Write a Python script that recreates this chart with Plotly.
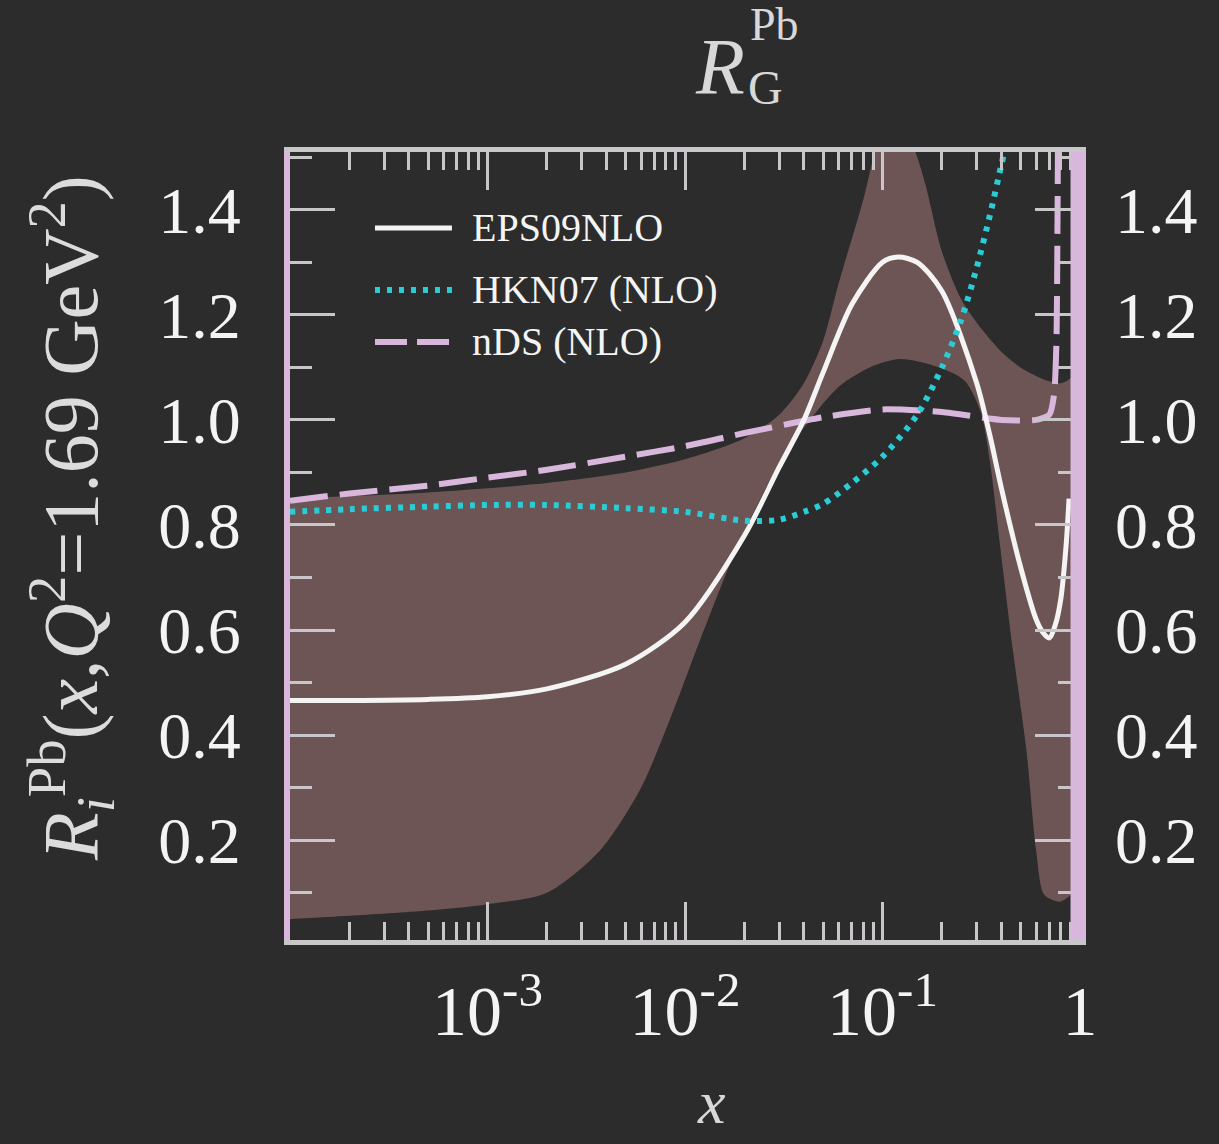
import numpy as np
import plotly.graph_objects as go

# ---- data: nuclear modification of the gluon in Pb, Q^2 = 1.69 GeV^2 ----
x_eps = [1e-4, 2e-4, 5e-4, 1e-3, 2e-3, 5e-3, 0.01, 0.02, 0.03, 0.04, 0.05, 0.07,
         0.1, 0.12, 0.15, 0.2, 0.3, 0.35, 0.4, 0.5, 0.6, 0.65, 0.7, 0.75, 0.8, 0.85, 0.88]
r_eps = [0.466, 0.466, 0.468, 0.473, 0.488, 0.535, 0.615, 0.78, 0.91, 1.0, 1.09, 1.22,
         1.30, 1.31, 1.30, 1.245, 1.07, 0.97, 0.87, 0.72, 0.62, 0.595, 0.585, 0.61, 0.66, 0.76, 0.85]

x_band_lo = [1e-4, 2e-4, 5e-4, 1e-3, 2e-3, 3.7e-3, 5.9e-3, 8.4e-3, 0.0119, 0.019, 0.0303,
             0.0429, 0.0608, 0.0862, 0.122, 0.194, 0.26, 0.313, 0.35, 0.394, 0.458,
             0.536, 0.6, 0.66, 0.79, 0.9, 1.0]
r_band_lo = [0.05, 0.056, 0.066, 0.078, 0.1, 0.18, 0.295, 0.43, 0.58, 0.77, 0.92,
             1.0, 1.065, 1.10, 1.116, 1.10, 1.075, 1.017, 0.92, 0.76, 0.56,
             0.37, 0.18, 0.096, 0.083, 0.096, 0.12]

x_band_hi = [1e-4, 2e-4, 5e-4, 1e-3, 2e-3, 5e-3, 0.01, 0.02, 0.03, 0.04, 0.05, 0.06,
             0.08, 0.09, 0.1, 0.12, 0.13, 0.15, 0.165, 0.2, 0.25, 0.3, 0.4, 0.5,
             0.68, 0.8, 0.9, 1.0]
r_band_hi = [0.85, 0.855, 0.862, 0.87, 0.88, 0.9, 0.925, 0.965, 1.01, 1.07, 1.15, 1.26,
             1.42, 1.5, 1.56, 1.6, 1.56, 1.5, 1.448, 1.32, 1.23, 1.185, 1.13, 1.1,
             1.075, 1.07, 1.08, 1.1]

x_hkn = [1e-4, 2e-4, 5e-4, 1e-3, 2e-3, 5e-3, 0.01, 0.02, 0.03, 0.04, 0.05, 0.07,
         0.1, 0.15, 0.2, 0.25, 0.3, 0.35, 0.4, 0.42]
r_hkn = [0.825, 0.83, 0.835, 0.838, 0.838, 0.832, 0.825, 0.808, 0.81, 0.825, 0.84, 0.88,
         0.93, 1.01, 1.10, 1.19, 1.29, 1.39, 1.486, 1.52]

x_nds = [1e-4, 2e-4, 5e-4, 1e-3, 2e-3, 5e-3, 0.01, 0.02, 0.05, 0.1, 0.2, 0.4,
         0.6, 0.7, 0.74, 0.76, 0.77, 0.775]
r_nds = [0.846, 0.86, 0.875, 0.89, 0.905, 0.93, 0.95, 0.975, 1.005, 1.02, 1.015, 1.0,
         1.0, 1.01, 1.05, 1.15, 1.4, 1.6]

y_ticks = [0.2, 0.4, 0.6, 0.8, 1.0, 1.2, 1.4]
y_ticktext = ["0.2", "0.4", "0.6", "0.8", "1.0", "1.2", "1.4"]
x_ticks = [1e-3, 1e-2, 1e-1, 1.0]
x_ticktext = ["10<sup>-3</sup>", "10<sup>-2</sup>", "10<sup>-1</sup>", "1"]

legend_names = ["EPS09NLO", "HKN07 (NLO)", "nDS (NLO)"]

# ---- styles ----
BG = "#2c2c2c"
BAND = "rgb(110,85,85)"
WHITE = "#f4f4f4"
CYAN = "#2acdd6"
LILAC = "#d9b6dc"
FRAME = "#c9c6c9"
TITLE = "#d8d8d8"
SERIF = "Liberation Serif, Times New Roman, serif"

x_minor = [m * 10.0 ** d for d in range(-4, 0) for m in range(2, 10)]
y_minor = [0.1, 0.3, 0.5, 0.7, 0.9, 1.1, 1.3, 1.5]

fig = go.Figure()

# uncertainty band: lower edge, then upper edge filled down to it
fig.add_trace(go.Scatter(x=x_band_lo, y=r_band_lo, mode="lines",
                         line=dict(width=0, shape="spline", smoothing=0.8),
                         showlegend=False, hoverinfo="skip"))
fig.add_trace(go.Scatter(x=x_band_hi, y=r_band_hi, mode="lines", fill="tonexty",
                         fillcolor=BAND, line=dict(width=0, shape="spline", smoothing=0.8),
                         showlegend=False, hoverinfo="skip"))

fig.add_trace(go.Scatter(x=x_nds, y=r_nds, mode="lines", name=legend_names[2],
                         line=dict(color=LILAC, width=6, dash="38px,12px",
                                   shape="spline", smoothing=0.6),
                         showlegend=False))
fig.add_trace(go.Scatter(x=x_eps, y=r_eps, mode="lines", name=legend_names[0],
                         line=dict(color=WHITE, width=5, shape="spline", smoothing=0.8),
                         showlegend=False))
fig.add_trace(go.Scatter(x=x_hkn, y=r_hkn, mode="lines", name=legend_names[1],
                         line=dict(color=CYAN, width=6, dash="5px,7px",
                                   shape="spline", smoothing=0.8),
                         showlegend=False))

# carrier for the right-hand tick labels
fig.add_trace(go.Scatter(x=x_eps, y=r_eps, yaxis="y2", mode="lines",
                         line=dict(width=0), opacity=0, showlegend=False,
                         hoverinfo="skip"))

YR = [0.01, 1.51]

fig.update_layout(
    width=1219, height=1144,
    margin=dict(l=290, r=139, t=152, b=204),
    paper_bgcolor=BG, plot_bgcolor=BG,
    font=dict(family=SERIF, color=WHITE),
    showlegend=False,
    xaxis=dict(type="log", range=[-4, 0], showgrid=False, zeroline=False,
               showline=True, linecolor=FRAME, linewidth=5, mirror="ticks",
               ticks="inside", ticklen=38, tickwidth=3, tickcolor=FRAME,
               tickvals=x_ticks, ticktext=x_ticktext,
               tickfont=dict(size=70, family=SERIF, color=WHITE),
               ticklabelstandoff=6,
               minor=dict(tickvals=x_minor, ticks="inside", ticklen=18,
                          tickwidth=3, tickcolor=FRAME)),
    yaxis=dict(range=YR, showgrid=False, zeroline=False,
               showline=True, linecolor=LILAC, linewidth=6, mirror="ticks",
               ticks="inside", ticklen=45, tickwidth=3, tickcolor=FRAME,
               tickvals=y_ticks, ticktext=y_ticktext,
               tickfont=dict(size=66, family=SERIF, color=WHITE),
               ticklabelstandoff=30,
               minor=dict(tickvals=y_minor, ticks="inside", ticklen=22,
                          tickwidth=3, tickcolor=FRAME)),
    yaxis2=dict(range=YR, overlaying="y", side="right", anchor="x",
                showgrid=False, zeroline=False, showline=False, ticks="",
                tickvals=y_ticks, ticktext=y_ticktext,
                tickfont=dict(size=66, family=SERIF, color=WHITE),
                ticklabelstandoff=34),
)

# heavier lilac edge along the right side of the frame
fig.add_shape(type="rect", xref="x domain", yref="y domain",
              x0=0.988, x1=1.0, y0=0, y1=1, layer="above",
              line=dict(width=0), fillcolor=LILAC)

# legend drawn inside the frame
leg_y = [0.9036, 0.825, 0.759]
leg_styles = [dict(color=WHITE, width=5),
              dict(color=CYAN, width=6, dash="5px,7px"),
              dict(color=LILAC, width=6, dash="32px,10px")]
for name, yy, st in zip(legend_names, leg_y, leg_styles):
    fig.add_shape(type="line", xref="paper", yref="paper",
                  x0=0.1076, x1=0.205, y0=yy, y1=yy, line=st)
    fig.add_annotation(xref="paper", yref="paper", x=0.228, y=yy, text=name,
                       showarrow=False, xanchor="left", yanchor="middle",
                       font=dict(size=40, family=SERIF, color=WHITE))

# panel title R_G^Pb
def label(x, y, text, size, color=TITLE, angle=0):
    fig.add_annotation(xref="paper", yref="paper", x=x, y=y, text=text,
                       showarrow=False, xanchor="center", yanchor="middle",
                       textangle=angle, font=dict(size=size, family=SERIF, color=color))

label(0.544, 1.108, "<i>R</i>", 80)
label(0.613, 1.162, "Pb", 46)
label(0.602, 1.082, "G", 48)

# axis titles
label(0.534, -0.205, "<i>x</i>", 62)
label(-0.278, 0.536,
      "<i>R</i><sub><i>i</i></sub><sup>Pb</sup>(<i>x</i>,<i>Q</i><sup>2</sup>=1.69 GeV<sup>2</sup>)",
      78, color="#dcdcdc", angle=-90)

fig.write_html("out.html")
